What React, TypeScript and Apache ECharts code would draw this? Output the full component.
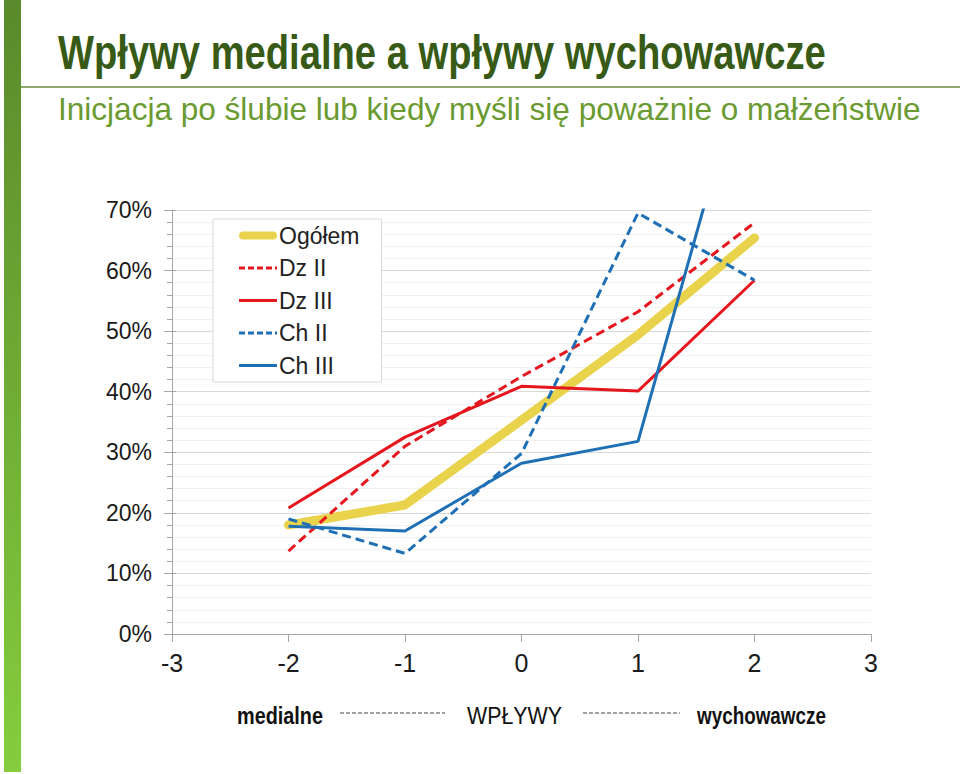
import React, { useEffect, useRef } from "react";
import * as echarts from "echarts";

// ---- data ----
const xValues = [-2, -1, 0, 1, 2];
const ogolem = [18.0, 21.3, 35.3, 49.4, 65.4];
const dzII = [13.7, 31.0, 42.5, 53.2, 67.9];
const dzIII = [20.8, 32.5, 40.9, 40.1, 58.4];
const chII = [19.0, 13.3, 29.8, 69.5, 58.4];
const chIII = [17.8, 17.0, 28.2, 31.8, 100.2];
const seriesNames = ["Ogółem", "Dz II", "Dz III", "Ch II", "Ch III"];
const xMin = -3;
const xMax = 3;
const yMinPct = 0;
const yMaxPct = 70;

const titleText = "Wpływy medialne a wpływy wychowawcze";
const subtitleText = "Inicjacja po ślubie lub kiedy myśli się poważnie o małżeństwie";
const bottomLabels = ["medialne", "WPŁYWY", "wychowawcze"];

function fitScale(text: string, font: string, target: number): number {
  const c = document.createElement("canvas").getContext("2d");
  if (!c) return 1;
  c.font = font;
  const w = c.measureText(text).width;
  return w > 0 ? target / w : 1;
}

export default function App() {
  const ref = useRef<HTMLDivElement>(null);
  useEffect(() => {
    if (!ref.current) return;
    const chart = echarts.init(ref.current, null, { renderer: "svg" });
    const FF = "'Liberation Sans', Arial, sans-serif";
    const titleFont = `bold 48px ${FF}`;
    const subFont = `32px ${FF}`;
    const bFont = `bold 24px ${FF}`;
    const rFont = `24px ${FF}`;

    const toPts = (arr: number[]) => xValues.map((x, i) => [x, arr[i]]);
    const RED = "#E5161E";
    const BLUE = "#1F6FB5";
    const YEL = "#E9D24C";

    const styles: any[] = [
      { color: YEL, width: 9, cap: "round", join: "round" },
      { color: RED, width: 3, type: [9, 5] },
      { color: RED, width: 3 },
      { color: BLUE, width: 3, type: [9, 5] },
      { color: BLUE, width: 3 },
    ];
    const legendStyles: any[] = [
      { color: YEL, width: 8, cap: "round", type: [30, 200], dashOffset: -4 },
      { color: RED, width: 3, type: [6, 3] },
      { color: RED, width: 3 },
      { color: BLUE, width: 3, type: [6, 3] },
      { color: BLUE, width: 3 },
    ];
    const dataSets = [ogolem, dzII, dzIII, chII, chIII];

    const option: any = {
      animation: false,
      backgroundColor: "#ffffff",
      grid: { left: 172, right: 89, top: 210, bottom: 140, containLabel: false },
      legend: {
        data: seriesNames.map((n, i) => ({ name: n, lineStyle: legendStyles[i] })),
        orient: "vertical",
        left: 213,
        top: 219,
        itemWidth: 38,
        itemHeight: 14,
        itemGap: 9.5,
        padding: [5, 22, 5, 22],
        borderColor: "#d9d9d9",
        borderWidth: 1,
        backgroundColor: "#ffffff",
        itemStyle: { opacity: 0 },
        textStyle: { fontSize: 23, color: "#222", fontFamily: FF, lineHeight: 23, padding: [0, 0, 0, -3] },
      },
      xAxis: {
        type: "value",
        min: xMin,
        max: xMax,
        interval: 1,
        axisLine: { show: true, onZero: false, lineStyle: { color: "#a6a6a6", width: 1 } },
        axisTick: { show: true, length: 8, lineStyle: { color: "#a6a6a6" } },
        splitLine: { show: false },
        axisLabel: { fontSize: 25, color: "#1a1a1a", fontFamily: FF, margin: 16 },
      },
      yAxis: [
        {
          type: "value",
          min: yMinPct,
          max: yMaxPct,
          interval: 10,
          axisLine: { show: true, onZero: false, lineStyle: { color: "#a6a6a6", width: 1 } },
          axisTick: { show: true, length: 8, lineStyle: { color: "#a6a6a6" } },
          minorTick: { show: true, splitNumber: 5, length: 5, lineStyle: { color: "#a6a6a6" } },
          splitLine: { show: true, lineStyle: { color: "#d9d9d9", width: 1 } },
          minorSplitLine: { show: true, lineStyle: { color: "#f1f1f1", width: 1 } },
          axisLabel: { fontSize: 23, color: "#1a1a1a", fontFamily: FF, margin: 20, formatter: "{value}%" },
        },
        {
          type: "value",
          position: "left",
          min: yMinPct,
          max: yMaxPct,
          interval: 10,
          axisLine: { show: false, onZero: false },
          axisTick: { show: true, inside: true, length: 4, lineStyle: { color: "#a6a6a6" } },
          splitLine: { show: false },
          axisLabel: { show: false },
        },
      ],
      series: seriesNames.map((n, i) => ({
        name: n,
        type: "line",
        data: toPts(dataSets[i]),
        symbol: "none",
        clip: true,
        lineStyle: styles[i],
        itemStyle: { color: styles[i].color },
      })),
      graphic: [
        {
          type: "rect",
          shape: { x: 4, y: 0, width: 17, height: 772 },
          style: {
            fill: new echarts.graphic.LinearGradient(0, 0, 0, 1, [
              { offset: 0, color: "#5a8a2b" },
              { offset: 1, color: "#85cd3e" },
            ]),
          },
          silent: true,
        },
        {
          type: "line",
          shape: { x1: 21, y1: 87, x2: 960, y2: 87 },
          style: { stroke: "#8fa96e", lineWidth: 2 },
          silent: true,
        },
        {
          type: "text",
          x: 58,
          y: 52,
          scaleX: fitScale(titleText, titleFont, 768),
          style: { text: titleText, font: titleFont, fill: "#375a17", align: "left", verticalAlign: "middle" },
          silent: true,
        },
        {
          type: "text",
          x: 58,
          y: 109,
          scaleX: fitScale(subtitleText, subFont, 863),
          style: { text: subtitleText, font: subFont, fill: "#6a9a30", align: "left", verticalAlign: "middle" },
          silent: true,
        },
        {
          type: "text",
          x: 237,
          y: 716,
          scaleX: fitScale(bottomLabels[0], bFont, 86),
          style: { text: bottomLabels[0], font: bFont, fill: "#111", align: "left", verticalAlign: "middle" },
          silent: true,
        },
        {
          type: "line",
          shape: { x1: 340, y1: 713, x2: 445, y2: 713 },
          style: { stroke: "#444", lineWidth: 1, lineDash: [4, 2] },
          silent: true,
        },
        {
          type: "text",
          x: 467,
          y: 716,
          scaleX: fitScale(bottomLabels[1], rFont, 95),
          style: { text: bottomLabels[1], font: rFont, fill: "#111", align: "left", verticalAlign: "middle" },
          silent: true,
        },
        {
          type: "line",
          shape: { x1: 583, y1: 713, x2: 680, y2: 713 },
          style: { stroke: "#444", lineWidth: 1, lineDash: [4, 2] },
          silent: true,
        },
        {
          type: "text",
          x: 697,
          y: 716,
          scaleX: fitScale(bottomLabels[2], bFont, 129),
          style: { text: bottomLabels[2], font: bFont, fill: "#111", align: "left", verticalAlign: "middle" },
          silent: true,
        },
      ],
    };
    chart.setOption(option);
    return () => chart.dispose();
  }, []);
  return (
    <div
      ref={ref}
      style={{ position: "absolute", left: 0, top: 0, width: 960, height: 774, background: "#fff" }}
    />
  );
}
